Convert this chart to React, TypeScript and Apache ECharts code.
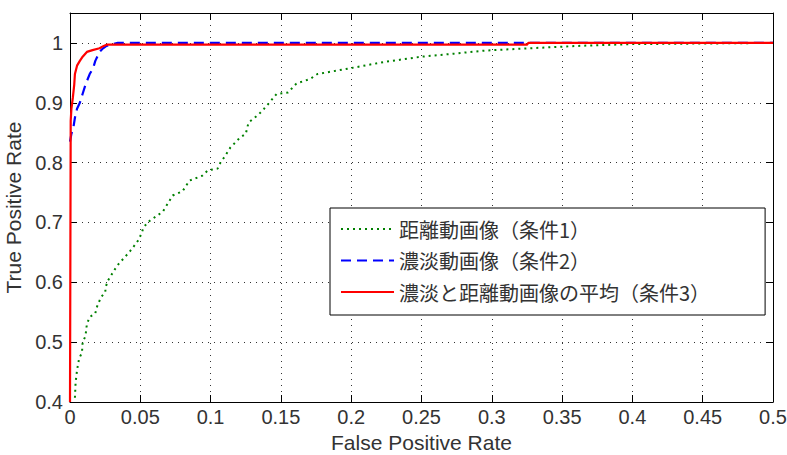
import React, { useEffect, useRef } from "react";
import * as echarts from "echarts";

const seriesNames = ["距離動画像（条件1）", "濃淡動画像（条件2）", "濃淡と距離動画像の平均（条件3）"];

const xTitle = "False Positive Rate";
const yTitle = "True Positive Rate";

// Condition 1 (green dotted)
const cond1: [number, number][] = [
  [0.0035, 0.407], [0.004, 0.433], [0.005, 0.453], [0.0065, 0.473], [0.0085, 0.482],
  [0.009, 0.5], [0.011, 0.51], [0.012, 0.53], [0.014, 0.542], [0.018, 0.548],
  [0.019, 0.558], [0.022, 0.575], [0.025, 0.583], [0.0255, 0.593], [0.027, 0.603],
  [0.032, 0.622], [0.035, 0.632], [0.039, 0.642], [0.043, 0.653], [0.046, 0.662],
  [0.0485, 0.67], [0.051, 0.682], [0.052, 0.69], [0.055, 0.7], [0.066, 0.718],
  [0.073, 0.745], [0.08, 0.752], [0.085, 0.77], [0.094, 0.778], [0.098, 0.787],
  [0.105, 0.79], [0.107, 0.8], [0.11, 0.81], [0.114, 0.825], [0.121, 0.842],
  [0.125, 0.848], [0.127, 0.867], [0.134, 0.88], [0.138, 0.89], [0.141, 0.898],
  [0.147, 0.915], [0.155, 0.917], [0.161, 0.932], [0.171, 0.94], [0.176, 0.948],
  [0.2, 0.958], [0.223, 0.968], [0.25, 0.977], [0.273, 0.982], [0.294, 0.987],
  [0.318, 0.99], [0.361, 0.995], [0.399, 0.998], [0.45, 0.999], [0.5, 1.0],
];

// Condition 2 (blue dashed)
const cond2: [number, number][] = [
  [0, 0.835], [0.001, 0.848], [0.0025, 0.86], [0.0035, 0.875], [0.005, 0.89],
  [0.007, 0.9], [0.009, 0.915], [0.011, 0.93], [0.014, 0.948], [0.0165, 0.958],
  [0.018, 0.97], [0.021, 0.985], [0.023, 0.99], [0.026, 0.995], [0.03, 0.998],
  [0.034, 1.0], [0.5, 1.0],
];

// Condition 3 (red solid)
const cond3: [number, number][] = [
  [0, 0.4], [0.0005, 0.87], [0.001, 0.89], [0.002, 0.908], [0.003, 0.93],
  [0.0035, 0.948], [0.005, 0.962], [0.007, 0.97], [0.009, 0.977], [0.012, 0.985],
  [0.016, 0.988], [0.021, 0.991], [0.024, 0.995], [0.026, 0.997], [0.325, 0.997],
  [0.326, 1.0], [0.5, 1.0],
];

const App: React.FC = () => {
  const ref = useRef<HTMLDivElement>(null);

  useEffect(() => {
    if (!ref.current) return;
    const chart = echarts.init(ref.current, null, { renderer: "svg" });
    const font = "'Liberation Sans', Arial, sans-serif";
    const textColor = "#333";
    const tickColor = "#000";
    const gridDash = { color: "#333", width: 1, type: [1, 5] as number[] };
    chart.setOption({
      animation: false,
      backgroundColor: "#fff",
      grid: { left: 70, top: 13, right: 14, bottom: 53, containLabel: false, outerBoundsMode: "none" },
      legend: {
        orient: "vertical",
        left: 330,
        top: 208,
        data: seriesNames,
        itemWidth: 53,
        itemHeight: 14,
        itemGap: 11.5,
        padding: [11, 55, 13, 10],
        borderColor: "#000",
        borderWidth: 1,
        backgroundColor: "#fff",
        selectedMode: false,
        itemStyle: { opacity: 0, borderWidth: 0 },
        textStyle: {
          fontFamily: "'Noto Sans CJK JP', sans-serif",
          fontSize: 20,
          color: textColor,
          lineHeight: 20,
        },
      },
      xAxis: [
        {
          type: "value",
          min: 0,
          max: 0.5,
          interval: 0.05,
          name: xTitle,
          nameLocation: "middle",
          nameGap: 23,
          nameTextStyle: { fontFamily: font, fontSize: 21, color: textColor },
          axisLine: { show: true, onZero: false, lineStyle: { color: tickColor, width: 1 } },
          axisTick: { show: true, inside: true, length: 7, lineStyle: { color: tickColor } },
          axisLabel: { margin: 5, fontFamily: font, fontSize: 20, color: textColor },
          splitLine: { show: true, lineStyle: gridDash },
        },
        {
          type: "value",
          position: "top",
          min: 0,
          max: 0.5,
          interval: 0.05,
          axisLine: { show: true, onZero: false, lineStyle: { color: tickColor, width: 1 } },
          axisTick: { show: true, inside: true, length: 7, lineStyle: { color: tickColor } },
          axisLabel: { show: false },
          splitLine: { show: false },
        },
      ],
      yAxis: [
        {
          type: "value",
          min: 0.4,
          max: 1.05,
          interval: 0.1,
          name: yTitle,
          nameLocation: "middle",
          nameGap: 38,
          nameTextStyle: { fontFamily: font, fontSize: 21, color: textColor },
          axisLine: { show: true, onZero: false, lineStyle: { color: tickColor, width: 1 } },
          axisTick: { show: true, inside: true, length: 7, lineStyle: { color: tickColor } },
          axisLabel: {
            margin: 7,
            fontFamily: font,
            fontSize: 20,
            color: textColor,
            showMaxLabel: false,
            formatter: (v: number) => (v > 1.001 ? "" : String(Math.round(v * 10) / 10)),
          },
          splitLine: { show: true, lineStyle: gridDash },
        },
        {
          type: "value",
          position: "right",
          min: 0.4,
          max: 1.05,
          interval: 0.1,
          axisLine: { show: true, onZero: false, lineStyle: { color: tickColor, width: 1 } },
          axisTick: { show: true, inside: true, length: 7, lineStyle: { color: tickColor } },
          axisLabel: { show: false },
          splitLine: { show: false },
        },
      ],
      series: [
        {
          name: seriesNames[0],
          type: "line",
          data: cond1,
          symbol: "none",
          showSymbol: false,
          clip: true,
          z: 2,
          lineStyle: { color: "#008000", width: 2, type: [2, 4] },
          itemStyle: { color: "#008000" },
        },
        {
          name: seriesNames[1],
          type: "line",
          data: cond2,
          symbol: "none",
          showSymbol: false,
          clip: true,
          z: 3,
          lineStyle: { color: "#0000ff", width: 2.2, type: [10, 6] },
          itemStyle: { color: "#0000ff" },
        },
        {
          name: seriesNames[2],
          type: "line",
          data: cond3,
          symbol: "none",
          showSymbol: false,
          clip: true,
          z: 4,
          lineStyle: { color: "#ff0000", width: 2.2, type: "solid" },
          itemStyle: { color: "#ff0000" },
        },
      ],
    });
    return () => chart.dispose();
  }, []);

  return (
    <div
      ref={ref}
      style={{ position: "fixed", left: 0, top: 0, width: 787, height: 455, background: "#fff" }}
    />
  );
};

export default App;
